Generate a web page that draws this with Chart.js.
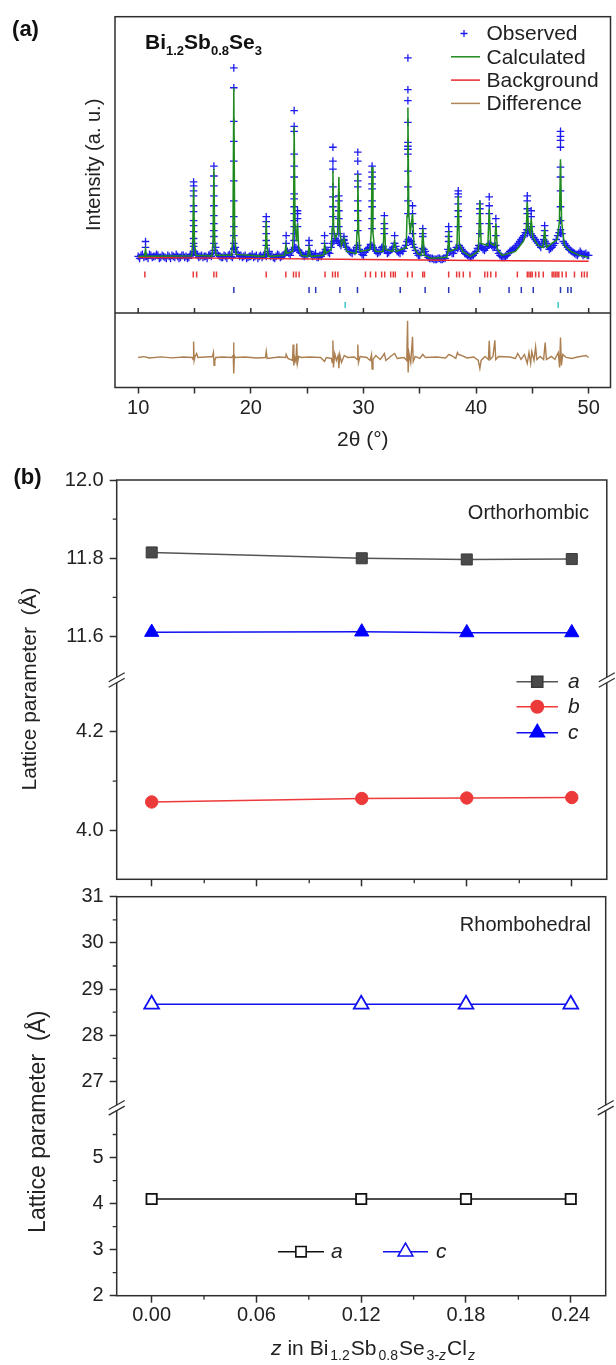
<!DOCTYPE html>
<html>
<head>
<meta charset="utf-8">
<script src="https://cdn.jsdelivr.net/npm/chart.js@4.4.1/dist/chart.umd.min.js"></script>
<style>
html, body { margin: 0; padding: 0; background: #fff; }
#wrap { position: relative; width: 616px; height: 1365px; overflow: hidden; background: #fff; }
canvas { position: absolute; left: 0; }
</style>
</head>
<body>
<div id="wrap">
  <canvas id="xrd" width="616" height="460" style="top:0"></canvas>
  <canvas id="ortho" width="616" height="440" style="top:460px"></canvas>
  <canvas id="rhombo" width="616" height="495" style="top:870px"></canvas>
</div>
<script>
// ---------------- DATA: panel (a), Rietveld fit ----------------
// observed background band, one value every 0.25 deg from 10 deg,
// and a second set in between (from 10.125 deg)
const obsBaseStart = 10;
const obsBaseStep = 0.25;
const obsBaseY = [
  57, 58, 56, 57, 59, 56, 57, 58, 56, 57, 55, 57, 58, 56, 57, 56, 58, 57, 56, 58,
  62, 58, 57, 56, 57, 58, 57, 63, 60, 57, 56, 57, 58, 57, 64, 61, 57, 56, 58, 56,
  57, 56, 58, 57, 56, 59, 60, 57, 56, 57, 58, 57, 59, 62, 58, 64, 66, 63, 60, 57,
  58, 62, 57, 60, 56, 57, 61, 63, 60, 70, 75, 72, 68, 74, 66, 62, 60, 62, 68, 61,
  58, 63, 66, 68, 64, 60, 62, 67, 63, 61, 64, 70, 62, 60, 62, 68, 74, 72, 66, 60,
  58, 65, 62, 56, 55, 54, 54, 55, 54, 55, 64, 62, 60, 66, 68, 64, 60, 58, 56, 58,
  62, 68, 66, 63, 67, 70, 66, 68, 60, 57, 56, 58, 62, 64, 66, 70, 74, 78, 84, 82,
  78, 74, 70, 66, 74, 70, 64, 66, 70, 78, 84, 72, 68, 64, 62, 60, 58, 62, 58, 60,
  58
];
const obsMidStart = 10.125;
const obsMidY = [
  55, 59, 57, 55, 58, 57, 59, 55, 58, 56, 58, 55, 57, 59, 55, 58, 56, 55, 59, 60,
  60, 56, 58, 57, 55, 59, 60, 66, 58, 56, 58, 55, 59, 56, 66, 59, 58, 57, 55, 57,
  59, 57, 55, 58, 58, 57, 62, 58, 55, 59, 56, 58, 61, 60, 62, 66, 64, 61, 58, 59,
  60, 59, 58, 56, 58, 59, 64, 61, 66, 72, 73, 70, 71, 70, 64, 61, 63, 66, 64, 59,
  61, 65, 69, 66, 62, 61, 66, 64, 60, 63, 66, 67, 61, 63, 65, 72, 73, 69, 63, 58,
  61, 64, 58, 55, 55, 54, 55, 54, 55, 58, 62, 60, 63, 65, 66, 62, 59, 57, 57, 60,
  65, 67, 64, 65, 69, 68, 67, 63, 58, 56, 57, 60, 63, 65, 68, 72, 76, 81, 83, 80,
  76, 72, 68, 70, 72, 67, 65, 68, 74, 81, 80, 70, 66, 63, 61, 59, 60, 60, 59, 58
];
// observed points climbing each peak
const peakPos = [10.65, 14.92, 16.72, 18.49, 21.37, 23.14, 23.85, 24.15, 25.17, 26.55,
  27.29, 27.82, 28.27, 29.50, 30.77, 31.86, 32.77, 33.95, 34.36, 35.27,
  37.57, 38.42, 40.34, 41.17, 41.76, 44.55, 44.90, 46.09, 47.50];
const peakObs = [
  [72, 66],
  [132, 128, 123, 118, 108, 102, 93, 88, 82, 75, 70, 67],
  [148, 138, 128, 118, 108, 98, 90, 83, 77, 70],
  [247, 227, 193, 173, 153, 133, 113, 97, 87, 78, 70, 65],
  [97, 92, 87, 80, 73, 68],
  [78, 70],
  [204, 188, 183, 160, 148, 137, 120, 115, 107, 100, 93, 87, 80, 73],
  [103, 100, 95, 87],
  [73, 68],
  [78, 70],
  [167, 153, 145, 127, 117, 107, 97, 87, 80],
  [118, 113, 103, 95, 87, 80],
  [77, 73, 70],
  [162, 153, 140, 133, 127, 113, 103, 93, 83],
  [148, 142, 137, 130, 125, 113, 107, 95, 85],
  [98, 90, 85, 80],
  [78, 70],
  [257, 225, 214, 192, 172, 168, 165, 160, 143, 127, 113, 100],
  [108, 100, 90, 80],
  [85, 80, 77],
  [87, 82, 77, 72],
  [123, 120, 117, 110, 103, 97, 87],
  [110, 105, 100, 90, 80],
  [117, 108, 100, 90],
  [95, 87, 78],
  [118, 113, 105, 100, 90, 80],
  [103, 97, 87],
  [88, 83, 78, 72],
  [183, 178, 174, 167, 147, 137, 123, 107, 93, 80]
];
const calcPts = [
  [10, 57], [10.55, 57], [10.65, 64], [10.75, 57],
  [14.75, 57.5], [14.84, 72], [14.92, 127], [15.0, 72], [15.1, 58],
  [16.55, 57.5], [16.64, 72], [16.72, 145], [16.8, 72], [16.9, 58],
  [18.3, 58], [18.41, 78], [18.49, 227], [18.57, 78], [18.7, 59],
  [21.2, 57], [21.31, 68], [21.37, 93], [21.44, 68], [21.55, 57],
  [23.0, 58], [23.11, 68], [23.2, 60], [23.7, 62], [23.79, 88], [23.85, 188], [23.93, 90],
  [24.05, 72], [24.15, 90], [24.25, 66], [24.5, 58],
  [25.05, 57], [25.17, 66], [25.3, 57], [26.45, 58], [26.55, 68], [26.65, 60],
  [27.15, 64], [27.22, 85], [27.29, 143], [27.36, 85], [27.5, 75], [27.7, 80], [27.82, 137],
  [27.9, 85], [28.05, 68], [28.27, 75], [28.5, 62],
  [29.35, 60], [29.43, 82], [29.5, 140], [29.58, 80], [29.7, 62],
  [30.6, 64], [30.69, 82], [30.77, 147], [30.85, 80], [31.0, 64], [31.1, 62],
  [31.75, 62], [31.86, 96], [31.96, 64], [32.6, 62], [32.77, 72], [32.9, 62],
  [33.8, 66], [33.87, 98], [33.95, 207], [34.03, 100], [34.15, 80], [34.36, 100], [34.5, 66], [34.8, 60],
  [35.15, 58], [35.27, 85], [35.4, 58], [36.0, 55], [37.4, 56],
  [37.5, 62], [37.57, 83], [37.65, 62], [38.3, 65], [38.42, 118], [38.52, 70], [38.8, 62], [39.5, 57],
  [40.2, 62], [40.34, 113], [40.45, 70], [41.05, 68], [41.17, 105], [41.3, 70],
  [41.65, 68], [41.76, 90], [41.9, 64], [42.3, 58],
  [43.5, 62], [44.2, 72], [44.45, 82], [44.55, 112], [44.65, 85], [44.8, 80], [44.9, 95], [45.05, 76], [45.5, 68],
  [45.95, 66], [46.09, 85], [46.25, 66], [47.2, 74], [47.4, 92], [47.5, 155], [47.6, 92],
  [47.85, 68], [48.4, 62], [49.2, 58], [50, 56]
];
const bgPts = [[10, 55.8], [20, 55.0], [30, 53.8], [40, 52.8], [50, 52.0]];
const diffPts = [
  [10, 0], [10.5, 0.8], [11, -0.5], [12, 0.6], [13, -0.4], [14, 0.5], [14.8, 0], [14.88, -2], [14.92, 16],
  [14.97, -3], [15.05, 1], [15.19, 4], [15.3, 0],
  [16.0, 0.5], [16.6, 1], [16.68, 5], [16.74, -8], [16.8, -3], [16.9, 0],
  [17.5, 0.5], [18.3, 0], [18.44, 2], [18.47, 15], [18.5, -16], [18.54, 2], [18.6, 0],
  [19.5, 0.5], [20.5, -0.5], [21.3, 0], [21.37, 6], [21.45, -1], [22.5, 0.5], [23.1, 0], [23.14, 3], [23.3, -1],
  [23.7, -3], [23.76, 13], [23.82, -8], [23.9, 0], [24.0, -4], [24.08, 14], [24.14, -6], [24.25, 1], [24.5, 0],
  [25.2, 0.5], [26.2, 0], [26.55, -4], [26.7, 0], [27.15, -1], [27.23, -5], [27.29, 17], [27.34, -10],
  [27.45, 4], [27.6, -3], [27.75, 2], [27.82, -10.7], [27.9, 3], [28.05, -5], [28.3, 2], [28.6, 0],
  [29.2, 0.5], [29.45, -2], [29.5, 13], [29.56, -5], [29.7, 1], [30.3, 0], [30.6, -3], [30.72, 3],
  [30.77, -11.7], [30.85, -2], [31.1, 2], [31.5, -2], [31.86, 4], [32.0, -3], [32.4, 1], [32.77, 4],
  [33.0, -1], [33.6, 0],
  [33.85, -3], [33.92, 37], [33.97, -15], [34.05, 4], [34.2, -5], [34.36, 20.7], [34.42, -4], [34.6, 1],
  [35.0, -1], [35.27, 3], [35.5, 0],
  [36.5, 0.5], [37.3, -0.5], [37.57, 3], [37.8, 2], [38.2, -1], [38.35, 5], [38.45, 3], [38.7, 2],
  [39.2, -0.5], [39.8, 0.5],
  [40.2, -3], [40.34, -11], [40.45, -3], [40.8, 1], [41.1, -2], [41.17, 16.7], [41.25, -2], [41.5, 1],
  [41.67, 17.3], [41.75, -2], [42.0, 1],
  [43.0, 0.5], [43.5, -1], [43.7, 4], [44.0, -2], [44.3, 3], [44.55, -6], [44.7, 5], [44.85, -6],
  [44.95, 6], [45.15, -3], [45.29, 10.7], [45.4, -2], [45.7, 1],
  [46.0, -2], [46.14, 15], [46.25, -2], [46.7, 1], [47.0, -2], [47.3, 5], [47.42, -10], [47.5, 20],
  [47.58, -8], [47.7, 3], [48.0, 0], [48.5, -1], [49.0, 0.5], [49.77, 2], [50, 0]
];
// Bragg reflection markers, three phases
const reflRed = [10.59, 14.89, 15.19, 16.72, 16.95, 21.37, 23.11, 23.79, 24.02, 24.29, 26.59, 27.26,
  27.50, 27.73, 30.18, 30.62, 31.09, 31.62, 31.89, 32.42, 32.65, 32.83, 33.92, 34.33, 35.27, 35.42,
  37.57, 38.28, 38.52, 38.87, 39.46, 40.78, 41.02, 41.31, 41.76, 43.67, 44.55, 44.70, 44.85, 44.99,
  45.29, 45.58, 45.97, 46.76, 46.91, 47.06, 47.20, 47.35, 47.65, 48.00, 48.74, 49.38, 49.62, 49.86];
const reflBlue = [18.49, 25.17, 25.76, 27.91, 29.47, 33.27, 35.48, 37.57, 40.34, 42.93, 44.02,
  45.08, 47.50, 48.15, 48.44];
const reflCyan = [28.38, 47.29];
const reflLevels = [38.7, 23, 8];
const xrdTicks = [10, 15, 20, 25, 30, 35, 40, 45, 50];
const xrdRange = [7.94, 51.94];
const intRange = [0, 298.6];
const diffRange = [-30.2, 44.8];

// ---------------- DATA: panel (b), lattice parameters ----------------
const zVals = [0, 0.12, 0.18, 0.24];
const zTicks = [0, 0.06, 0.12, 0.18, 0.24];
const zMinor = [0.03, 0.09, 0.15, 0.21];
const zRange = [-0.02, 0.26];
const orthoA = [11.815, 11.800, 11.797, 11.798];
const orthoB = [4.058, 4.065, 4.066, 4.067];
const orthoC = [11.611, 11.612, 11.610, 11.610];
const rhomboA = [4.10, 4.10, 4.10, 4.10];
const rhomboC = [28.67, 28.67, 28.67, 28.67];
const orthoTopRange = [11.489, 12.0], orthoTopTicks = [11.6, 11.8, 12.0], orthoTopMinor = [11.7, 11.9];
const orthoBotRange = [3.902, 4.304], orthoBotTicks = [4.0, 4.2], orthoBotMinor = [4.1];
const rhTopRange = [26.43, 31], rhTopTicks = [27, 28, 29, 30, 31], rhTopMinor = [27.5, 28.5, 29.5, 30.5];
const rhBotRange = [2, 6.08], rhBotTicks = [2, 3, 4, 5], rhBotMinor = [2.5, 3.5, 4.5, 5.5];

// ---------------- HELPERS ----------------
const FAMILY = "'Liberation Sans', Arial, sans-serif";
const INK = '#2e2e2e';
Chart.defaults.font.family = FAMILY;
Chart.defaults.color = '#222';
Chart.defaults.animation = false;

function font(size, style) {
    return (style || '') + ' ' + size + 'px ' + FAMILY;
}

function pts(xs, ys) {
    return xs.map((x, i) => ({ x: x, y: ys[i] }));
}

// text with sub/superscript pieces on one baseline
function rich(ctx, parts, x, y, align) {
    let w = 0;
    parts.forEach(p => { ctx.font = font(p.size, p.style); w += ctx.measureText(p.t).width + (p.gap || 0); });
    let cx = align === 'center' ? x - w / 2 : x;
    ctx.textAlign = 'left';
    ctx.textBaseline = 'alphabetic';
    parts.forEach(p => {
        ctx.font = font(p.size, p.style);
        cx += (p.gap || 0);
        ctx.fillText(p.t, cx, y + (p.dy || 0));
        cx += ctx.measureText(p.t).width;
    });
}

function vText(ctx, text, x, y, size) {
    ctx.save();
    ctx.translate(x, y);
    ctx.rotate(-Math.PI / 2);
    ctx.font = font(size);
    ctx.fillStyle = '#222';
    ctx.textAlign = 'center';
    ctx.textBaseline = 'middle';
    ctx.fillText(text, 0, 0);
    ctx.restore();
}

function marker(ctx, style, x, y, r, fill, stroke, lw) {
    ctx.beginPath();
    if (style === 'rect') {
        const s = r * Math.SQRT1_2;
        ctx.rect(x - s, y - s, 2 * s, 2 * s);
    } else if (style === 'circle') {
        ctx.arc(x, y, r, 0, 2 * Math.PI);
    } else if (style === 'triangle') {
        for (let k = 0; k < 3; k++) {
            const ang = k * 2 * Math.PI / 3;
            const px = x + Math.sin(ang) * r, py = y - Math.cos(ang) * r;
            if (k) ctx.lineTo(px, py); else ctx.moveTo(px, py);
        }
        ctx.closePath();
    } else if (style === 'cross') {
        ctx.moveTo(x - r, y); ctx.lineTo(x + r, y);
        ctx.moveTo(x, y - r); ctx.lineTo(x, y + r);
    }
    if (fill) { ctx.fillStyle = fill; ctx.fill(); }
    ctx.lineWidth = lw;
    ctx.strokeStyle = stroke;
    ctx.stroke();
}

function legendRow(ctx, x0, x1, y, lineColor, style, r, fill, stroke, label, tx) {
    ctx.beginPath();
    ctx.moveTo(x0, y); ctx.lineTo(x1, y);
    ctx.strokeStyle = lineColor; ctx.lineWidth = 1.5; ctx.stroke();
    marker(ctx, style, (x0 + x1) / 2, y, r, fill, stroke, 1.6);
    ctx.fillStyle = '#222';
    ctx.font = font(21, 'italic');
    ctx.textAlign = 'left';
    ctx.textBaseline = 'middle';
    ctx.fillText(label, tx, y);
}

function breakMark(ctx, x, y) {
    ctx.save();
    ctx.fillStyle = '#fff';
    ctx.fillRect(x - 2.5, y - 2.6, 5, 5.2);
    ctx.strokeStyle = INK;
    ctx.lineWidth = 1.3;
    ctx.beginPath();
    [-2.8, 2.8].forEach(d => { ctx.moveTo(x - 8, y + d + 4.5); ctx.lineTo(x + 8, y + d - 4.5); });
    ctx.stroke();
    ctx.restore();
}

function fixedTicks(list) {
    return s => { s.ticks = list.map(v => ({ value: v })); };
}

function yAxis(range, ticks, weight, height, fmt) {
    return {
        type: 'linear', position: 'left', stack: 'p', stackWeight: height, weight: weight,
        min: range[0], max: range[1],
        afterBuildTicks: fixedTicks(ticks),
        afterFit: s => { s.width = 60; },
        ticks: { callback: fmt, font: { size: 20 }, color: '#222', padding: 6 },
        grid: { display: true, drawOnChartArea: false, drawTicks: true, tickLength: 7, tickColor: INK, tickWidth: 1.5 },
        border: { display: false }
    };
}

function zAxis(showLabels) {
    return {
        type: 'linear', position: 'bottom', min: zRange[0], max: zRange[1],
        afterBuildTicks: fixedTicks(zTicks),
        ticks: { display: showLabels, callback: v => v.toFixed(2), font: { size: 20 }, color: '#222', padding: 1, autoSkip: false, maxRotation: 0 },
        grid: { display: true, drawOnChartArea: false, drawTicks: true, tickLength: 7, tickColor: INK, tickWidth: 1.5 },
        border: { display: false }
    };
}

// frame, minor ticks and the axis break for the two lattice panels
function latticeFrame(minorTop, minorBot, extra) {
    return {
        id: 'latticeFrame',
        afterDraw(chart) {
            const ctx = chart.ctx, a = chart.chartArea, s = chart.scales;
            ctx.save();
            ctx.strokeStyle = INK;
            ctx.lineWidth = 1.5;
            ctx.strokeRect(a.left, a.top, a.right - a.left, a.bottom - a.top);
            ctx.lineWidth = 1.3;
            ctx.beginPath();
            minorTop.forEach(v => { const y = s.yTop.getPixelForValue(v); ctx.moveTo(a.left - 4, y); ctx.lineTo(a.left, y); });
            minorBot.forEach(v => { const y = s.yBot.getPixelForValue(v); ctx.moveTo(a.left - 4, y); ctx.lineTo(a.left, y); });
            zMinor.forEach(v => { const x = s.x.getPixelForValue(v); ctx.moveTo(x, a.bottom); ctx.lineTo(x, a.bottom + 4); });
            ctx.stroke();
            const yb = s.yTop.bottom;
            breakMark(ctx, a.left, yb);
            breakMark(ctx, a.right, yb);
            extra(ctx, a);
            ctx.restore();
        }
    };
}

// ---------------- PANEL (a) ----------------
function initXrd() {
    const obs = obsBaseY.map((v, i) => ({ x: obsBaseStart + i * obsBaseStep, y: v }));
    obsMidY.forEach((v, i) => obs.push({ x: obsMidStart + i * obsBaseStep, y: v }));
    peakPos.forEach((p, k) => peakObs[k].forEach(v => obs.push({ x: p, y: v })));
    const refl = (list, lvl) => list.map(x => ({ x: x, y: lvl }));
    const toXY = list => list.map(p => ({ x: p[0], y: p[1] }));

    const xrdDecor = {
        id: 'xrdDecor',
        afterDraw(chart) {
            const ctx = chart.ctx, a = chart.chartArea, s = chart.scales;
            const sep = s.yMain.bottom;
            ctx.save();
            ctx.strokeStyle = INK;
            ctx.lineWidth = 1.5;
            ctx.strokeRect(a.left, a.top, a.right - a.left, a.bottom - a.top);
            ctx.beginPath();
            ctx.moveTo(a.left, sep); ctx.lineTo(a.right, sep);
            xrdTicks.forEach(v => { const x = s.x.getPixelForValue(v); ctx.moveTo(x, sep); ctx.lineTo(x, sep - 5); });
            ctx.stroke();

            ctx.fillStyle = '#111';
            ctx.font = font(22, 'bold');
            ctx.textAlign = 'center';
            ctx.textBaseline = 'middle';
            ctx.fillText('(a)', 25.5, 30);

            ctx.fillStyle = '#111';
            rich(ctx, [
                { t: 'Bi', size: 21, style: 'bold' }, { t: '1.2', size: 13, style: 'bold', dy: 6.5 },
                { t: 'Sb', size: 21, style: 'bold' }, { t: '0.8', size: 13, style: 'bold', dy: 6.5 },
                { t: 'Se', size: 21, style: 'bold' }, { t: '3', size: 13, style: 'bold', dy: 6.5 }
            ], 145, 48.5, 'left');

            const rows = [
                ['Observed', null, '#1c1cf0'],
                ['Calculated', '#1f8a1f', null],
                ['Background', '#e8282c', null],
                ['Difference', '#b08656', null]
            ];
            rows.forEach((r, i) => {
                const y = 33.5 + i * 23.3;
                if (r[1]) {
                    ctx.beginPath();
                    ctx.moveTo(451, y); ctx.lineTo(480, y);
                    ctx.strokeStyle = r[1]; ctx.lineWidth = 1.5; ctx.stroke();
                } else {
                    marker(ctx, 'cross', 464, y, 3.5, null, r[2], 1.3);
                }
                ctx.fillStyle = '#222';
                ctx.font = font(21);
                ctx.textAlign = 'left';
                ctx.textBaseline = 'middle';
                ctx.fillText(r[0], 486.5, y + 1);
            });

            vText(ctx, 'Intensity (a. u.)', 94, (a.top + sep) / 2, 20);
            ctx.restore();
        }
    };

    new Chart(document.getElementById('xrd'), {
        type: 'scatter',
        data: {
            datasets: [
                { data: toXY(calcPts), yAxisID: 'yMain', showLine: true, pointRadius: 0, borderColor: '#1f8a1f', borderWidth: 1.5 },
                { data: toXY(bgPts), yAxisID: 'yMain', showLine: true, pointRadius: 0, borderColor: '#e8282c', borderWidth: 1.4 },
                { data: obs, yAxisID: 'yMain', pointStyle: 'cross', pointRadius: 3.8, pointBorderWidth: 1.3, pointBorderColor: '#1c1cf0' },
                { data: refl(reflRed, reflLevels[0]), yAxisID: 'yMain', pointStyle: 'line', pointRotation: 90, pointRadius: 3, pointBorderWidth: 1.5, pointBorderColor: '#e83a3a' },
                { data: refl(reflBlue, reflLevels[1]), yAxisID: 'yMain', pointStyle: 'line', pointRotation: 90, pointRadius: 3, pointBorderWidth: 1.5, pointBorderColor: '#2838b8' },
                { data: refl(reflCyan, reflLevels[2]), yAxisID: 'yMain', pointStyle: 'line', pointRotation: 90, pointRadius: 3, pointBorderWidth: 1.5, pointBorderColor: '#3cc3c8' },
                { data: toXY(diffPts), yAxisID: 'yDiff', showLine: true, pointRadius: 0, borderColor: '#ab7f50', borderWidth: 1.4 }
            ]
        },
        options: {
            responsive: false,
            devicePixelRatio: 1,
            events: [],
            layout: { padding: { left: 115, right: 3, top: 16.7, bottom: 3.3 } },
            plugins: { legend: { display: false }, tooltip: { enabled: false } },
            scales: {
                x: {
                    type: 'linear', position: 'bottom', min: xrdRange[0], max: xrdRange[1],
                    afterBuildTicks: fixedTicks(xrdTicks),
                    ticks: { callback: v => (v % 10 === 0 ? String(v) : ''), font: { size: 20 }, color: '#222', padding: 3, autoSkip: false, maxRotation: 0 },
                    grid: { display: true, drawOnChartArea: false, drawTicks: true, tickLength: 6, tickColor: INK, tickWidth: 1.5 },
                    border: { display: false },
                    title: { display: true, text: '2θ (°)', font: { size: 21 }, color: '#222', padding: { top: 4, bottom: 4 } }
                },
                yMain: {
                    type: 'linear', position: 'left', stack: 'a', stackWeight: 298.6, weight: 2,
                    min: intRange[0], max: intRange[1],
                    afterFit: s => { s.width = 0; },
                    ticks: { display: false }, grid: { display: false }, border: { display: false }
                },
                yDiff: {
                    type: 'linear', position: 'left', stack: 'a', stackWeight: 75.2, weight: 1,
                    min: diffRange[0], max: diffRange[1],
                    afterFit: s => { s.width = 0; },
                    ticks: { display: false }, grid: { display: false }, border: { display: false }
                }
            }
        },
        plugins: [xrdDecor]
    });
}

// ---------------- PANEL (b), orthorhombic ----------------
function initOrtho() {
    const decor = latticeFrame(orthoTopMinor, orthoBotMinor, (ctx, a) => {
        ctx.fillStyle = '#111';
        ctx.font = font(22, 'bold');
        ctx.textAlign = 'center';
        ctx.textBaseline = 'middle';
        ctx.fillText('(b)', 27.5, a.top - 2);

        ctx.fillStyle = '#222';
        ctx.font = font(20);
        ctx.textAlign = 'right';
        ctx.fillText('Orthorhombic', 589, a.top + 33);

        legendRow(ctx, 516.5, 558, a.top + 201.7, '#555', 'rect', 7.8, '#4a4a4a', '#3a3a3a', 'a', 568);
        legendRow(ctx, 516.5, 558, a.top + 226.7, '#ee3a3a', 'circle', 6.2, '#ec3a3a', '#ec3a3a', 'b', 568);
        legendRow(ctx, 516.5, 558, a.top + 252.7, '#1010f0', 'triangle', 8.2, '#0000ff', '#0000ff', 'c', 568);

        vText(ctx, 'Lattice parameter  (Å)', 30, a.top + 209, 21);
    });

    new Chart(document.getElementById('ortho'), {
        type: 'scatter',
        data: {
            datasets: [
                { data: pts(zVals, orthoA), yAxisID: 'yTop', showLine: true, borderColor: '#555', borderWidth: 1.5,
                  pointStyle: 'rect', pointRadius: 7.8, pointBackgroundColor: '#4a4a4a', pointBorderColor: '#3a3a3a', pointBorderWidth: 1 },
                { data: pts(zVals, orthoB), yAxisID: 'yBot', showLine: true, borderColor: '#ee3a3a', borderWidth: 1.5,
                  pointStyle: 'circle', pointRadius: 6.2, pointBackgroundColor: '#ec3a3a', pointBorderColor: '#ec3a3a', pointBorderWidth: 1 },
                { data: pts(zVals, orthoC), yAxisID: 'yTop', showLine: true, borderColor: '#1010f0', borderWidth: 1.5,
                  pointStyle: 'triangle', pointRadius: 8.2, pointBackgroundColor: '#0000ff', pointBorderColor: '#0000ff', pointBorderWidth: 1 }
            ]
        },
        options: {
            responsive: false,
            devicePixelRatio: 1,
            events: [],
            layout: { padding: { left: 56.7, right: 1.5, top: 20, bottom: 13.7 } },
            plugins: { legend: { display: false }, tooltip: { enabled: false } },
            scales: {
                x: zAxis(false),
                yTop: yAxis(orthoTopRange, orthoTopTicks, 2, 200, v => v.toFixed(1)),
                yBot: yAxis(orthoBotRange, orthoBotTicks, 1, 199.3, v => v.toFixed(1))
            }
        },
        plugins: [decor]
    });
}

// ---------------- PANEL (b), rhombohedral ----------------
function initRhombo() {
    const decor = latticeFrame(rhTopMinor, rhBotMinor, (ctx, a) => {
        ctx.fillStyle = '#222';
        ctx.font = font(20);
        ctx.textAlign = 'right';
        ctx.textBaseline = 'middle';
        ctx.fillText('Rhombohedral', 591, a.top + 28.5);

        legendRow(ctx, 278, 324, a.top + 355, '#111', 'rect', 7.3, '#fff', '#111', 'a', 331);
        legendRow(ctx, 383, 428, a.top + 355, '#1010f0', 'triangle', 8.5, '#fff', '#1010f0', 'c', 436);

        ctx.fillStyle = '#222';
        rich(ctx, [
            { t: 'z', size: 21, style: 'italic' }, { t: ' in Bi', size: 21 },
            { t: '1.2', size: 14, dy: 5, gap: 2 }, { t: 'Sb', size: 21, gap: 1 },
            { t: '0.8', size: 14, dy: 5, gap: 2 }, { t: 'Se', size: 21, gap: 1 },
            { t: '3-', size: 14, dy: 5, gap: 2 }, { t: 'z', size: 14, dy: 5, style: 'italic' },
            { t: 'Cl', size: 21, gap: 1 }, { t: 'z', size: 14, dy: 5, style: 'italic', gap: 1 }
        ], 373, a.bottom + 59.5, 'center');

        vText(ctx, 'Lattice parameter  (Å)', 39, a.top + 225, 23);
    });

    new Chart(document.getElementById('rhombo'), {
        type: 'scatter',
        data: {
            datasets: [
                { data: pts(zVals, rhomboA), yAxisID: 'yBot', showLine: true, borderColor: '#111', borderWidth: 1.5,
                  pointStyle: 'rect', pointRadius: 7.3, pointBackgroundColor: '#fff', pointBorderColor: '#111', pointBorderWidth: 1.8 },
                { data: pts(zVals, rhomboC), yAxisID: 'yTop', showLine: true, borderColor: '#1010f0', borderWidth: 1.5,
                  pointStyle: 'triangle', pointRadius: 8.5, pointBackgroundColor: '#fff', pointBorderColor: '#1010f0', pointBorderWidth: 1.8 }
            ]
        },
        options: {
            responsive: false,
            devicePixelRatio: 1,
            events: [],
            layout: { padding: { left: 56.7, right: 1.5, top: 26.7, bottom: 36.3 } },
            plugins: { legend: { display: false }, tooltip: { enabled: false } },
            scales: {
                x: zAxis(true),
                yTop: yAxis(rhTopRange, rhTopTicks, 2, 211.6, v => String(v)),
                yBot: yAxis(rhBotRange, rhBotTicks, 1, 188.4, v => String(v))
            }
        },
        plugins: [decor]
    });
}

// ---------------- INIT ----------------
initXrd();
initOrtho();
initRhombo();
</script>
</body>
</html>
